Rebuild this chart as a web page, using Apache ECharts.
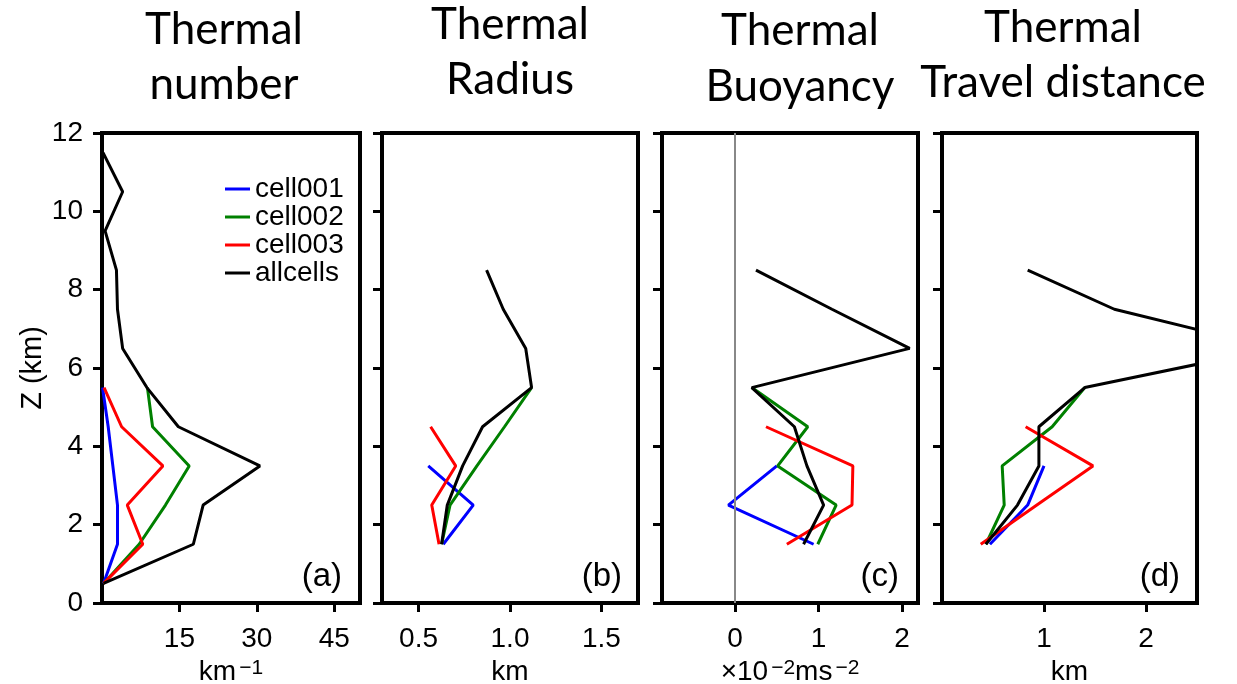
<!DOCTYPE html>
<html>
<head>
<meta charset="utf-8">
<script src="https://cdn.jsdelivr.net/npm/echarts@6/dist/echarts.min.js"></script>
<style>
html,body{margin:0;padding:0;background:#fff;}
#chart{width:1237px;height:684px;}
</style>
</head>
<body>
<div id="chart"></div>
<script>
// Heights (km) of the sampled levels
const levels = [0.5, 1.5, 2.5, 3.5, 4.5, 5.5, 6.5, 7.5, 8.5, 9.5, 10.5, 11.5];
const seriesNames = ['cell001', 'cell002', 'cell003', 'allcells'];
const seriesColors = ['#0000ff', '#008000', '#ff0000', '#000000'];

// (a) Thermal number (km^-1), starting at 0.5 km
const a_cell001 = [0.3, 3.0, 3.0, 2.1, 1.2, 0.1];
const a_cell002 = [0.3, 7.2, 12.3, 16.9, 9.8, 8.8];
const a_cell003 = [0.3, 7.9, 4.9, 11.8, 3.8, 0.4];
const a_all     = [0.3, 17.7, 19.6, 30.6, 14.8, 8.7, 4.0, 3.0, 2.8, 0.6, 4.0, 0.2];

// (b) Thermal radius (km), starting at 1.5 km
const b_cell001 = [0.635, 0.799, 0.553];
const b_cell002 = [0.626, 0.672, 0.819, 0.97, 1.118];
const b_cell003 = [0.612, 0.572, 0.703, 0.566];
const b_all     = [0.626, 0.657, 0.741, 0.85, 1.118, 1.086, 0.963, 0.872];

// (c) Thermal buoyancy (x10^-2 m s^-2), starting at 1.5 km
const c_cell001 = [0.94, -0.08, 0.50];
const c_cell002 = [0.99, 1.21, 0.51, 0.87, 0.20];
const c_cell003 = [0.62, 1.40, 1.41, 0.37];
const c_all     = [0.82, 1.06, 0.86, 0.71, 0.20, 2.09, 1.16, 0.25];

// (d) Thermal travel distance (km), starting at 1.5 km
const d_cell001 = [0.47, 0.84, 1.00];
const d_cell002 = [0.43, 0.61, 0.59, 1.08, 1.40];
const d_cell003 = [0.38, 0.93, 1.48, 0.82];
const d_all     = [0.43, 0.74, 0.95, 0.95, 1.40, 3.25, 1.69, 0.84];

// Tick labels
const yTicks = [0, 2, 4, 6, 8, 10, 12];
const xTicksA = [15, 30, 45];
const xTicksB = [0.5, 1.0, 1.5];
const xTicksC = [0, 1, 2];
const xTicksD = [1, 2];

const titles = [['Thermal', 'number'], ['Thermal', 'Radius'], ['Thermal', 'Buoyancy'], ['Thermal', 'Travel distance']];
const panelLabels = ['(a)', '(b)', '(c)', '(d)'];

const FONT = "'Liberation Sans',Arial,sans-serif";
const TFONT = "Lato, 'Open Sans', sans-serif";

const panels = [
  {data: [a_cell001, a_cell002, a_cell003, a_all], start: 0.5, min: 0, max: 50, ticks: xTicksA, fmt: v => String(v),
   name: '{t|km}{s|−1}', left: 102, width: 258},
  {data: [b_cell001, b_cell002, b_cell003, b_all], start: 1.5, min: 0.3, max: 1.7, ticks: xTicksB, fmt: v => v.toFixed(1),
   name: '{t|km}', left: 382, width: 256},
  {data: [c_cell001, c_cell002, c_cell003, c_all], start: 1.5, min: -0.875, max: 2.19, ticks: xTicksC, fmt: v => String(v),
   name: '{t|×10}{s|−2}{t|ms}{s|−2}', left: 662, width: 256},
  {data: [d_cell001, d_cell002, d_cell003, d_all], start: 1.5, min: 0, max: 2.5, ticks: xTicksD, fmt: v => String(v),
   name: '{t|km}', left: 942, width: 255}
];

const TOP = 133, HEIGHT = 470;
const grid = [], xAxis = [], yAxis = [], series = [];
panels.forEach((p, i) => {
  grid.push({left: p.left, top: TOP, width: p.width, height: HEIGHT, show: true,
    outerBoundsMode: 'none', containLabel: false,
    borderColor: '#000', borderWidth: 4, backgroundColor: 'transparent'});
  xAxis.push({
    gridIndex: i, type: 'value', min: p.min, max: p.max,
    splitLine: {show: false},
    axisLine: {show: true, onZero: false, lineStyle: {color: '#000', width: 4}},
    axisTick: {show: true, customValues: p.ticks, length: 9, lineStyle: {color: '#000', width: 3}},
    axisLabel: {show: true, customValues: p.ticks, formatter: p.fmt, color: '#000', fontSize: 28, fontFamily: FONT, margin: 22},
    name: p.name, nameLocation: 'middle', nameGap: 52,
    nameTextStyle: {color: '#000', fontSize: 28, fontFamily: FONT,
      rich: {t: {fontSize: 28, fontFamily: FONT, color: '#000'},
             s: {fontSize: 21, fontFamily: FONT, color: '#000', verticalAlign: 'top', padding: [0, 0, 0, 3]}}}
  });
  yAxis.push({
    gridIndex: i, type: 'value', min: yTicks[0], max: yTicks[yTicks.length - 1], interval: 2,
    splitLine: {show: false},
    axisLine: {show: true, onZero: false, lineStyle: {color: '#000', width: 4}},
    axisTick: {show: true, length: 9, lineStyle: {color: '#000', width: 3}},
    axisLabel: {show: i === 0, color: '#000', fontSize: 28, fontFamily: FONT, margin: 19},
    name: i === 0 ? 'Z (km)' : '', nameLocation: 'middle', nameRotate: 90, nameGap: 50,
    nameTextStyle: {color: '#000', fontSize: 29, fontFamily: FONT}
  });
  p.data.forEach((arr, k) => {
    const s = {
      name: seriesNames[k], type: 'line', xAxisIndex: i, yAxisIndex: i,
      data: arr.map((v, j) => [v, levels[j + (p.start === 0.5 ? 0 : 1)]]),
      symbol: 'none', color: seriesColors[k],
      lineStyle: {color: seriesColors[k], width: 3}, clip: true, animation: false, z: 3 + k
    };
    if (i === 2 && k === 0) {
      s.markLine = {silent: true, symbol: 'none', label: {show: false}, animation: false,
        lineStyle: {color: '#888', width: 2, type: 'solid'}, data: [{xAxis: 0}]};
    }
    series.push(s);
  });
});

const titlePos = [
  {x: 224, y: [30, 85]},
  {x: 510, y: [25, 80]},
  {x: 800, y: [31, 87]},
  {x: 1063, y: [28, 83]}
];
const labelPos = [342, 622, 899, 1180];
const graphic = [];
titles.forEach((t, i) => {
  t.forEach((line, j) => {
    graphic.push({type: 'text', x: titlePos[i].x, y: titlePos[i].y[j],
      style: {text: line, font: '44px ' + TFONT, fill: '#000', textAlign: 'center', textVerticalAlign: 'middle'}});
  });
  graphic.push({type: 'text', x: labelPos[i], y: 577, z: 10,
    style: {text: panelLabels[i], font: '33px ' + FONT, fill: '#000', textAlign: 'right', textVerticalAlign: 'middle'}});
});

const chart = echarts.init(document.getElementById('chart'), null, {renderer: 'canvas'});
chart.setOption({
  animation: false,
  backgroundColor: '#fff',
  grid, xAxis, yAxis, series, graphic,
  legend: {
    data: seriesNames, orient: 'vertical', left: 220, top: 170,
    icon: 'rect', itemWidth: 25, itemHeight: 3, itemGap: 0,
    textStyle: {color: '#000', fontSize: 28, fontFamily: FONT, lineHeight: 25}
  }
});
</script>
</body>
</html>
